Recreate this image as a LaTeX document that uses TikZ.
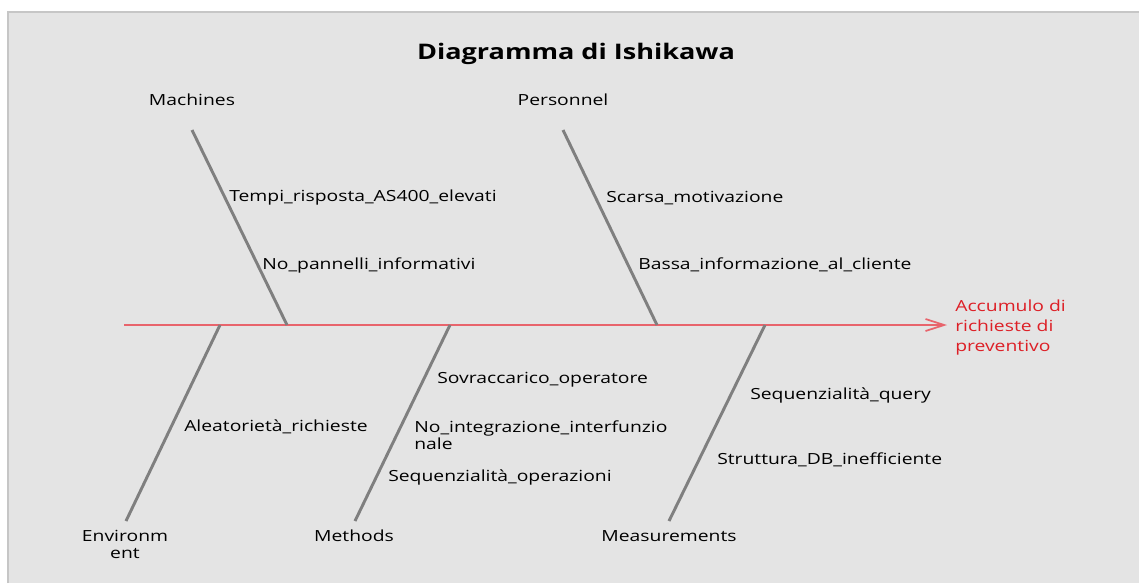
\documentclass[tikz,border=0pt]{standalone}
\usepackage{fontspec}
\setmainfont{Open Sans}[FakeStretch=1.26]
\usetikzlibrary{arrows.meta}
\definecolor{panelbg}{HTML}{E4E4E4}
\definecolor{panelrule}{HTML}{C6C6C6}
\definecolor{bonegray}{HTML}{7F7F7F}
\definecolor{spinered}{HTML}{E8646C}
\definecolor{effectred}{HTML}{DD1F26}
\tikzset{
  bone/.style={draw=bonegray, line width=2.2pt},
  spine/.style={draw=spinered, line width=1.6pt,
    -{Straight Barb[length=14pt, width=9pt, line width=1.3pt]}},
  cause/.style={anchor=west, inner sep=0pt, font=\fontsize{11.5}{12.75}\selectfont, text=black},
  category/.style={anchor=center, inner sep=0pt, align=center, font=\fontsize{11.5}{12.75}\selectfont, text=black},
  effect/.style={anchor=west, inner sep=0pt, align=left, font=\fontsize{11.5}{15}\selectfont, text=effectred},
  heading/.style={anchor=center, inner sep=0pt, font=\fontsize{16.1}{19}\selectfont\bfseries}
}
\begin{document}
\begin{tikzpicture}[x=0.75pt, y=-0.75pt]
  \useasboundingbox (0,0) rectangle (1139,583);
  % panel
  \fill[white] (0,0) rectangle (1139,583);
  \fill[panelbg] (8,12) rectangle (1139,583);
  \draw[panelrule, line width=0.8pt] (8,583) -- (8,12) -- (1139,12);

  \node[heading] (title) at (576,54) {Diagramma di Ishikawa};

  % spine and effect
  \coordinate (tail) at (124,325);
  \coordinate (head) at (947,325);
  \draw[spine] (tail) -- (head);
  \node[effect] (effect) at (955,328) {Accumulo di\\richieste di\\preventivo};

  % bone end points
  \coordinate (mTop) at (192,130);  \coordinate (mFoot) at (287,325);
  \coordinate (pTop) at (563,130);  \coordinate (pFoot) at (657,325);
  \coordinate (eFoot) at (220,325); \coordinate (eEnd) at (126,521);
  \coordinate (tFoot) at (450,325); \coordinate (tEnd) at (355,521);
  \coordinate (sFoot) at (765,325); \coordinate (sEnd) at (669,521);

  \draw[bone] (mTop) -- (mFoot);
  \draw[bone] (pTop) -- (pFoot);
  \draw[bone] (eFoot) -- (eEnd);
  \draw[bone] (tFoot) -- (tEnd);
  \draw[bone] (sFoot) -- (sEnd);

  % categories
  \node[category] (machines) at (192,100) {Machines};
  \node[category] (personnel) at (563,100) {Personnel};
  \node[category] (environment) at (125,544) {Environm\\ent};
  \node[category] (methods) at (354,536) {Methods};
  \node[category] (measurements) at (669,536) {Measurements};

  % causes
  \node[cause] (c1) at (229,198) {Tempi\_risposta\_AS400\_elevati};
  \node[cause] (c2) at (262,265) {No\_pannelli\_informativi};
  \node[cause] (c3) at (606,198) {Scarsa\_motivazione};
  \node[cause] (c4) at (638,265) {Bassa\_informazione\_al\_cliente};
  \node[cause] (c5) at (184,427) {Aleatorietà\_richieste};
  \node[cause] (c6) at (437,380) {Sovraccarico\_operatore};
  \node[cause, align=left] (c7) at (414,435) {No\_integrazione\_interfunzio\\nale};
  \node[cause] (c8) at (388,477) {Sequenzialità\_operazioni};
  \node[cause] (c9) at (750,395) {Sequenzialità\_query};
  \node[cause] (c10) at (717,460) {Struttura\_DB\_inefficiente};
\end{tikzpicture}
\end{document}
